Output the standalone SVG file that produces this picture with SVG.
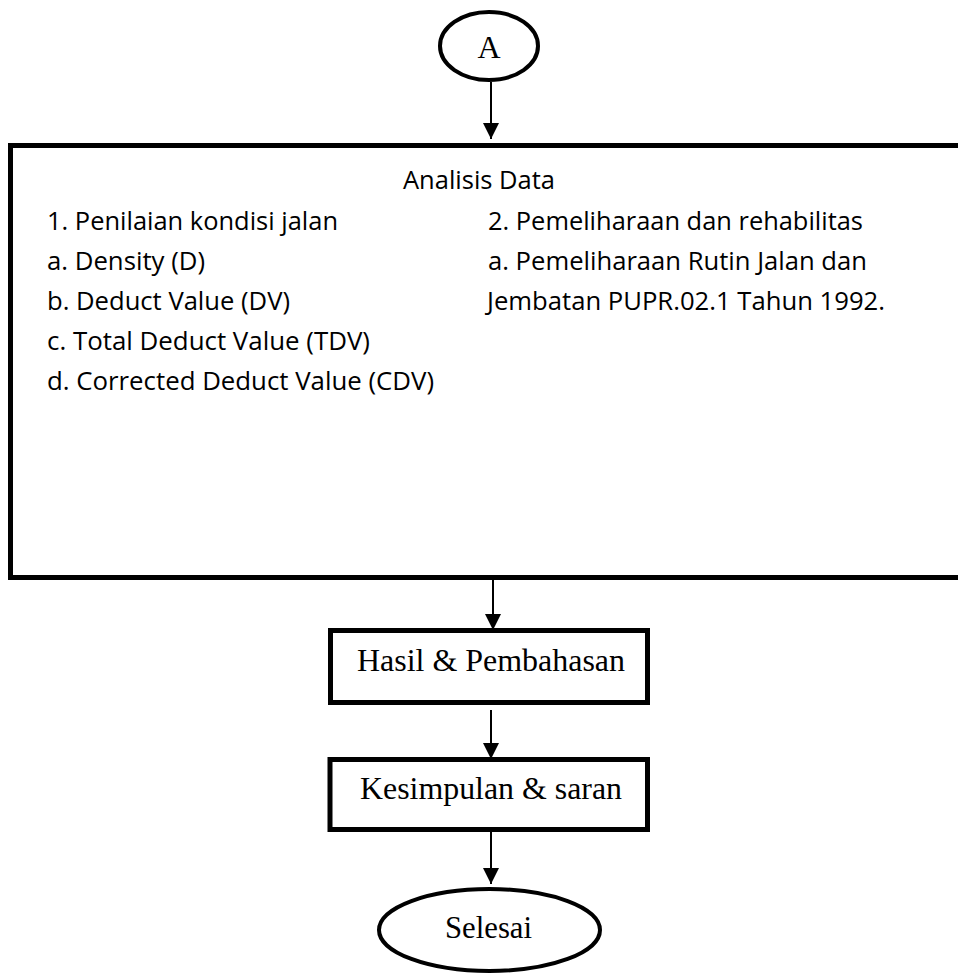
<svg xmlns="http://www.w3.org/2000/svg" width="958" height="974" viewBox="0 0 958 974">
<style>
.sans{font-family:"Open Sans","Noto Sans",sans-serif;font-size:25px;fill:#000}
.serif{font-family:"Liberation Serif","Times New Roman",serif;font-size:32px;fill:#000}
.box{fill:#fff;stroke:#000;stroke-width:5}
.oval{fill:#fff;stroke:#000;stroke-width:4}
.conn{stroke:#000;stroke-width:2;fill:none}
</style>
<defs>
<marker id="arrow" markerUnits="userSpaceOnUse" markerWidth="16" markerHeight="16" viewBox="0 0 16 16" refX="16" refY="8" orient="auto">
<path d="M0,0 L16,8 L0,16 Z" fill="#000"/>
</marker>
</defs>
<rect width="958" height="974" fill="#fff"/>
<g id="node-A">
<ellipse class="oval" cx="489" cy="46" rx="49" ry="34"/>
<text class="serif" x="489" y="58" text-anchor="middle" font-size="30">A</text>
</g>
<g id="node-analisis">
<rect class="box" x="10.5" y="145.5" width="970" height="432"/>
<text class="sans" x="403" y="189" textLength="152" lengthAdjust="spacingAndGlyphs">Analisis Data</text>
<text class="sans" x="47" y="230" textLength="291" lengthAdjust="spacingAndGlyphs">1. Penilaian kondisi jalan</text>
<text class="sans" x="47" y="270" textLength="158" lengthAdjust="spacingAndGlyphs">a. Density (D)</text>
<text class="sans" x="47" y="310" textLength="243" lengthAdjust="spacingAndGlyphs">b. Deduct Value (DV)</text>
<text class="sans" x="47" y="350" textLength="323" lengthAdjust="spacingAndGlyphs">c. Total Deduct Value (TDV)</text>
<text class="sans" x="47" y="390" textLength="387" lengthAdjust="spacingAndGlyphs">d. Corrected Deduct Value (CDV)</text>
<text class="sans" x="488" y="230" textLength="375" lengthAdjust="spacingAndGlyphs">2. Pemeliharaan dan rehabilitas</text>
<text class="sans" x="488" y="270" textLength="379" lengthAdjust="spacingAndGlyphs">a. Pemeliharaan Rutin Jalan dan</text>
<text class="sans" x="487" y="310" textLength="398" lengthAdjust="spacingAndGlyphs">Jembatan PUPR.02.1 Tahun 1992.</text>
</g>
<g id="node-hasil">
<rect class="box" x="330.5" y="630.5" width="317" height="72"/>
<text class="serif" x="357" y="671" textLength="268" lengthAdjust="spacingAndGlyphs">Hasil &amp; Pembahasan</text>
</g>
<g id="node-kesimpulan">
<rect class="box" x="330" y="759.5" width="317.5" height="70"/>
<text class="serif" x="360" y="799" textLength="262" lengthAdjust="spacingAndGlyphs">Kesimpulan &amp; saran</text>
</g>
<g id="node-selesai">
<ellipse class="oval" cx="489.5" cy="930" rx="110.5" ry="41"/>
<text class="serif" x="445" y="938" textLength="87" lengthAdjust="spacingAndGlyphs">Selesai</text>
</g>
<g id="connectors">
<line class="conn" x1="491" y1="82" x2="491" y2="139" marker-end="url(#arrow)"/>
<line class="conn" x1="493" y1="580" x2="493" y2="630" marker-end="url(#arrow)"/>
<line class="conn" x1="491" y1="710" x2="491" y2="759" marker-end="url(#arrow)"/>
<line class="conn" x1="491" y1="832" x2="491" y2="884" marker-end="url(#arrow)"/>
</g>
</svg>
